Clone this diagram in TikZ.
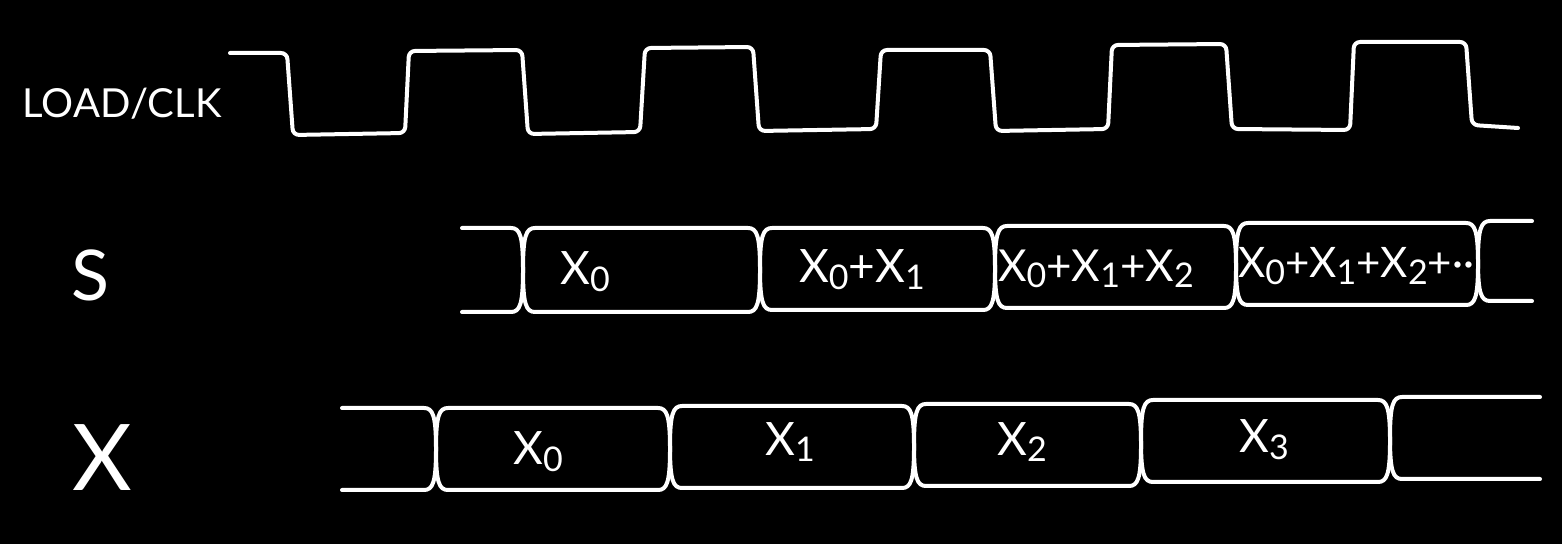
\documentclass[tikz,border=0pt]{standalone}
\usepackage{fontspec}
\setmainfont{Lato}
\newcommand\busseg[4]{% left crossing, right crossing, top, bottom
  \draw[sig] ({#1+12},#3) -- ({#2-12},#3) .. controls ({#2-3},#3) and (#2,{#3+8}) .. (#2,{(#3+#4)/2})
    .. controls (#2,{#4-8}) and ({#2-3},#4) .. ({#2-12},#4) -- ({#1+12},#4)
    .. controls ({#1+3},#4) and (#1,{#4-8}) .. (#1,{(#3+#4)/2})
    .. controls (#1,{#3+8}) and ({#1+3},#3) .. cycle;}
\newcommand\busstart[4]{% start x, crossing, top, bottom
  \draw[sig] (#1,#3) -- ({#2-12},#3) .. controls ({#2-3},#3) and (#2,{#3+8}) .. (#2,{(#3+#4)/2})
    .. controls (#2,{#4-8}) and ({#2-3},#4) .. ({#2-12},#4) -- (#1,#4);}
\newcommand\busend[4]{% crossing, end x, top, bottom
  \draw[sig] (#2,#3) -- ({#1+12},#3) .. controls ({#1+3},#3) and (#1,{#3+8}) .. (#1,{(#3+#4)/2})
    .. controls (#1,{#4-8}) and ({#1+3},#4) .. ({#1+12},#4) -- (#2,#4);}
\newcommand\sbx[1]{\raisebox{-0.15em}{\fontsize{17}{17}\selectfont #1}}
\begin{document}
\begin{tikzpicture}[x=0.5pt,y=-0.5pt,
  sig/.style={draw=white,line width=2pt,line join=round,line cap=round},
  lbl/.style={text=white,inner sep=0pt,anchor=center},
  val/.style={text=white,inner sep=0pt,anchor=center,font=\fontsize{23}{23}\selectfont}]
\fill[black] (0,0) rectangle (1562,544);
\useasboundingbox (0,0) rectangle (1562,544);
% labels
\node[lbl,font=\fontsize{20}{20}\selectfont] (lclk) at (122,104) {LOAD/CLK};
\node[lbl,font=\fontsize{35}{35}\selectfont] (ls) at (90,275) {S};
\node[lbl,font=\fontsize{46}{46}\selectfont] (lx) at (102,458) {X};
% clock
\draw[sig,rounded corners=3pt] (230,53) -- (287,53) -- (293,135) -- (405,133) -- (409,51) -- (522,50)
  -- (528,134) -- (640,132) -- (645,48) -- (753,47) -- (759,131) -- (876,129) -- (881,50)
  -- (990,50) -- (996,131) -- (1108,129) -- (1112,45) -- (1226,44) -- (1232,129)
  -- (1350,130) -- (1354,42) -- (1466,42) -- (1472,125) -- (1518,128);
% S bus
\busstart{462}{523}{228}{312}
\busseg{523}{760}{228}{312}
\busseg{760}{995}{228}{310}
\busseg{995}{1236}{226}{308}
\busseg{1236}{1478}{223}{305}
\busend{1478}{1532}{221}{301}
\node[val] (s0) at (585,272) {X\sbx{0}};
\node[val] (s1) at (862,270) {X\sbx{0}+X\sbx{1}};
\node[val,font=\fontsize{22}{22}\selectfont] (s2) at (1096,269) {X\sbx{0}+X\sbx{1}+X\sbx{2}};
\node[val,font=\fontsize{21}{21}\selectfont] (s3) at (1356,266) {X\sbx{0}+X\sbx{1}+X\sbx{2}+··};
% X bus
\busstart{342}{436}{408}{490}
\busseg{436}{670}{408}{490}
\busseg{670}{914}{406}{488}
\busseg{914}{1141}{404}{486}
\busseg{1141}{1390}{400}{482}
\busend{1390}{1540}{397}{479}
\node[val] (x0) at (538,452) {X\sbx{0}};
\node[val] (x1) at (790,442) {X\sbx{1}};
\node[val] (x2) at (1022,442) {X\sbx{2}};
\node[val] (x3) at (1264,440) {X\sbx{3}};
\end{tikzpicture}
\end{document}
